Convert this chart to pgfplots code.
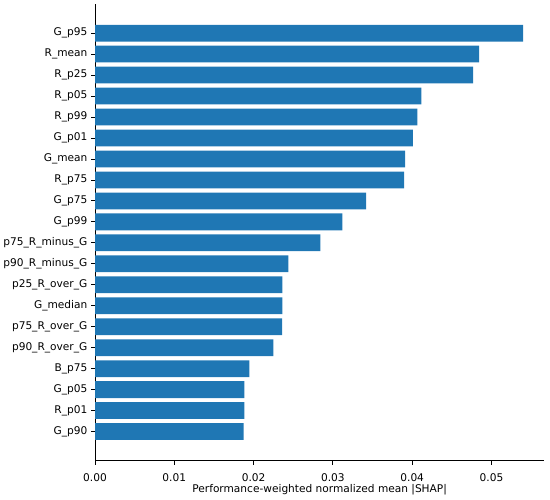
\documentclass[border=0pt]{standalone}
\usepackage{fontspec}
\setmainfont{DejaVu Sans}
\usepackage{pgfplots}
\pgfplotsset{compat=1.18}
\definecolor{mplblue}{RGB}{31,119,180}
\begin{document}
\fontsize{10.6bp}{12bp}\selectfont
\begin{tikzpicture}
\useasboundingbox (0,0) rectangle (550bp,500bp);
\begin{axis}[
  at={(95bp,39.3bp)}, anchor=south west,
  scale only axis, width=449.3bp, height=456.7bp,
  xmin=0, xmax=0.05666, ymin=-1.39, ymax=20.39,
  axis x line*=bottom, axis y line*=left,
  axis line style={-, line width=0.8bp},
  tick align=outside, major tick length=3.9bp,
  tick style={line width=0.8bp, black},
  xtick={0,0.01,0.02,0.03,0.04,0.05},
  xticklabel style={/pgf/number format/fixed, /pgf/number format/fixed zerofill, /pgf/number format/precision=2, font=\fontsize{10.6bp}{12bp}\selectfont},
  xticklabel shift=5bp,
  /pgf/number format/assume math mode=true,
  scaled x ticks=false,
  ytick={0,...,19},
  yticklabels={G\_p90, R\_p01, G\_p05, B\_p75, p90\_R\_over\_G, p75\_R\_over\_G, G\_median, p25\_R\_over\_G, p90\_R\_minus\_G, p75\_R\_minus\_G, G\_p99, G\_p75, R\_p75, G\_mean, G\_p01, R\_p99, R\_p05, R\_p25, R\_mean, G\_p95},
  yticklabel style={font=\fontsize{10.6bp}{12bp}\selectfont},
  xlabel={Performance-weighted normalized mean |SHAP|},
  xlabel style={font=\fontsize{10.6bp}{12bp}\selectfont, at={(axis description cs:0.5,0)}, anchor=center, yshift=-28.8bp},
]
\addplot[xbar, bar width=0.8, bar shift=0pt, fill=mplblue, draw=none] coordinates {
 (0.01875,0) (0.01883,1) (0.01883,2) (0.01946,3) (0.02249,4) (0.02360,5) (0.02362,6) (0.02362,7) (0.02438,8) (0.02842,9)
 (0.03119,10) (0.03418,11) (0.03897,12) (0.03910,13) (0.04010,14) (0.04065,15) (0.04115,16) (0.04767,17) (0.04843,18) (0.05400,19)
};
\end{axis}
\end{tikzpicture}
\end{document}
